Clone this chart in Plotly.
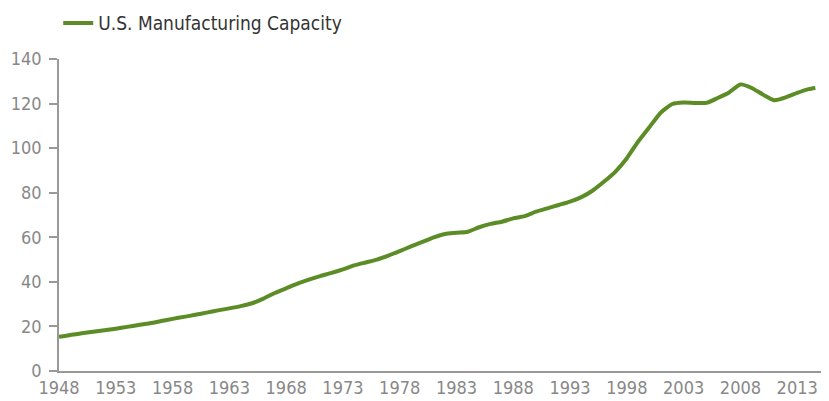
import plotly.graph_objects as go

years = [1948, 1949, 1950, 1951, 1952, 1953, 1954, 1955, 1956, 1957, 1958, 1959,
         1960, 1961, 1962, 1963, 1964, 1965, 1966, 1967, 1968, 1969, 1970, 1971,
         1972, 1973, 1974, 1975, 1976, 1977, 1978, 1979, 1980, 1981, 1982, 1983,
         1984, 1985, 1986, 1987, 1988, 1989, 1990, 1991, 1992, 1993, 1994, 1995,
         1996, 1997, 1998, 1999, 2000, 2001, 2002, 2003, 2004, 2005, 2006, 2007,
         2008, 2009, 2010, 2011, 2012, 2013, 2014, 2014.6]
capacity = [15.3, 16.2, 16.9, 17.6, 18.3, 19.0, 19.8, 20.6, 21.4, 22.4, 23.4, 24.3,
            25.2, 26.2, 27.2, 28.1, 29.1, 30.4, 32.5, 35.0, 37.1, 39.2, 41.0, 42.6,
            44.0, 45.6, 47.4, 48.7, 50.0, 51.8, 53.8, 55.9, 57.9, 60.0, 61.5, 62.0,
            62.5, 64.5, 66.0, 67.0, 68.5, 69.5, 71.5, 73.0, 74.5, 76.0, 78.0, 81.0,
            85.0, 89.5, 95.5, 103.0, 109.5, 116.0, 119.8, 120.5, 120.3, 120.3, 122.5, 125.0,
            128.6, 127.0, 124.0, 121.5, 122.8, 124.8, 126.5, 127.0]
x_ticks = [1948, 1953, 1958, 1963, 1968, 1973, 1978, 1983, 1988, 1993, 1998, 2003, 2008, 2013]
y_ticks = [0, 20, 40, 60, 80, 100, 120, 140]

font_family = "DejaVu Sans Condensed, Roboto, Arial"

fig = go.Figure()
fig.add_trace(go.Scatter(
    x=years, y=capacity, mode="lines", name="U.S. Manufacturing Capacity",
    line=dict(color="#5b8c26", width=4, shape="spline", smoothing=0.6),
))

fig.update_layout(
    width=821, height=393,
    margin=dict(l=51, r=0, t=51, b=30, autoexpand=False),
    paper_bgcolor="white", plot_bgcolor="white",
    font=dict(family=font_family, size=18, color="#888888"),
    showlegend=True,
    legend=dict(x=-0.001, y=1.115, xanchor="left", yanchor="middle",
                orientation="h", font=dict(size=19, color="#333333"),
                bgcolor="rgba(0,0,0,0)"),
    xaxis=dict(range=[1948, 2015.8], tickmode="array", tickvals=x_ticks,
               ticktext=[str(t) for t in x_ticks], showgrid=False, zeroline=False,
               showline=True, linecolor="#999999", linewidth=1.5, ticks="",
               tickfont=dict(size=18, color="#888888"), automargin=False),
    yaxis=dict(range=[0, 140], tickmode="array", tickvals=y_ticks,
               showgrid=False, zeroline=False, showline=True, linecolor="#999999",
               linewidth=1.5, ticks="outside", ticklen=8, tickcolor="#999999",
               tickwidth=1.5, tickfont=dict(size=18, color="#888888"),
               ticklabelstandoff=4, automargin=False),
)

fig.write_html("out.html")
